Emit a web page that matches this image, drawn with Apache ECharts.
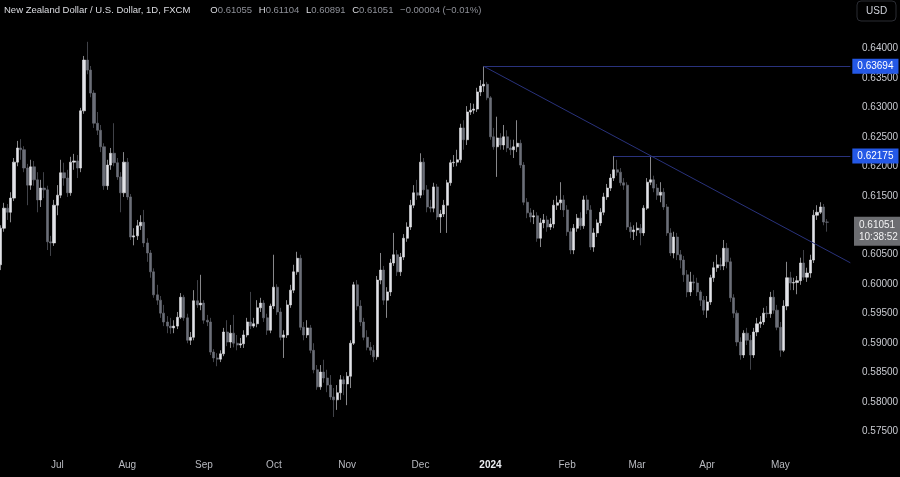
<!DOCTYPE html>
<html>
<head>
<meta charset="utf-8">
<title>NZDUSD 1D</title>
<script src="https://cdn.jsdelivr.net/npm/echarts/dist/echarts.min.js"></script>
<style>
  html, body { margin: 0; padding: 0; background: #000; }
  #chart { width: 900px; height: 477px; }
</style>
</head>
<body>
<div id="chart"></div>
<script>
// daily bars, FXCM, first bar on this weekday
var startDate = '2023-06-08';
// bar slots on the axis (the last ones stay empty, like the right margin in the original)
var slotCount = 256;

var opens = [
  0.6033, 0.6095, 0.6129, 0.6122, 0.6146, 0.6207, 0.6231, 0.6228, 0.6197, 0.6168,
  0.6199, 0.6177, 0.6143, 0.6163, 0.6160, 0.6072, 0.6070, 0.6134, 0.6151, 0.6189,
  0.6180, 0.6155, 0.6207, 0.6209, 0.6197, 0.6294, 0.6380, 0.6363, 0.6324, 0.6273,
  0.6261, 0.6233, 0.6167, 0.6202, 0.6222, 0.6206, 0.6182, 0.6155, 0.6207, 0.6148,
  0.6080, 0.6082, 0.6099, 0.6105, 0.6070, 0.6053, 0.6021, 0.5982, 0.5973, 0.5951,
  0.5936, 0.5929, 0.5926, 0.5929, 0.5944, 0.5978, 0.5943, 0.5905, 0.5910, 0.5972,
  0.5965, 0.5968, 0.5939, 0.5936, 0.5885, 0.5875, 0.5873, 0.5882, 0.5919, 0.5902,
  0.5917, 0.5900, 0.5897, 0.5899, 0.5914, 0.5936, 0.5929, 0.5933, 0.5960, 0.5968,
  0.5943, 0.5922, 0.5963, 0.5995, 0.5953, 0.5910, 0.5914, 0.5965, 0.5990, 0.6021,
  0.6044, 0.5927, 0.5914, 0.5926, 0.5888, 0.5855, 0.5826, 0.5851, 0.5841, 0.5829,
  0.5809, 0.5804, 0.5816, 0.5838, 0.5831, 0.5844, 0.5900, 0.5999, 0.5963, 0.5936,
  0.5910, 0.5893, 0.5888, 0.5877, 0.6007, 0.6024, 0.5973, 0.5987, 0.6036, 0.6050,
  0.6021, 0.6046, 0.6078, 0.6097, 0.6134, 0.6155, 0.6151, 0.6207, 0.6160, 0.6131,
  0.6129, 0.6165, 0.6114, 0.6119, 0.6134, 0.6172, 0.6206, 0.6207, 0.6211, 0.6265,
  0.6245, 0.6292, 0.6295, 0.6297, 0.6326, 0.6336, 0.6339, 0.6316, 0.6250, 0.6233,
  0.6248, 0.6236, 0.6250, 0.6231, 0.6228, 0.6233, 0.6239, 0.6202, 0.6139, 0.6121,
  0.6114, 0.6116, 0.6078, 0.6104, 0.6109, 0.6097, 0.6102, 0.6134, 0.6138, 0.6143,
  0.6126, 0.6089, 0.6058, 0.6095, 0.6112, 0.6099, 0.6143, 0.6126, 0.6063, 0.6087,
  0.6104, 0.6122, 0.6148, 0.6163, 0.6180, 0.6194, 0.6190, 0.6172, 0.6168, 0.6097,
  0.6089, 0.6092, 0.6095, 0.6087, 0.6129, 0.6173, 0.6177, 0.6163, 0.6151, 0.6156,
  0.6131, 0.6087, 0.6053, 0.6080, 0.6050, 0.6041, 0.6016, 0.5987, 0.6004, 0.6002,
  0.5987, 0.5973, 0.5956, 0.5970, 0.6011, 0.6028, 0.6033, 0.6031, 0.6061, 0.6038,
  0.5977, 0.5951, 0.5902, 0.5880, 0.5917, 0.5905, 0.5880, 0.5919, 0.5933, 0.5936,
  0.5951, 0.5950, 0.5978, 0.5956, 0.5927, 0.5888, 0.5963, 0.6011, 0.6002, 0.6003,
  0.6006, 0.6036, 0.6012, 0.6019, 0.6041, 0.6117, 0.6122, 0.6131, 0.61055
];

var closes = [
  0.6095, 0.6129, 0.6122, 0.6146, 0.6207, 0.6231, 0.6228, 0.6197, 0.6168, 0.6199,
  0.6177, 0.6143, 0.6163, 0.6160, 0.6072, 0.6070, 0.6134, 0.6151, 0.6189, 0.6180,
  0.6155, 0.6207, 0.6209, 0.6197, 0.6294, 0.6380, 0.6363, 0.6324, 0.6273, 0.6261,
  0.6233, 0.6167, 0.6202, 0.6222, 0.6206, 0.6182, 0.6155, 0.6207, 0.6148, 0.6080,
  0.6082, 0.6099, 0.6105, 0.6070, 0.6053, 0.6021, 0.5982, 0.5973, 0.5951, 0.5936,
  0.5929, 0.5926, 0.5929, 0.5944, 0.5978, 0.5943, 0.5905, 0.5910, 0.5972, 0.5965,
  0.5968, 0.5939, 0.5936, 0.5885, 0.5875, 0.5873, 0.5882, 0.5919, 0.5902, 0.5917,
  0.5900, 0.5897, 0.5899, 0.5914, 0.5936, 0.5929, 0.5933, 0.5960, 0.5968, 0.5943,
  0.5922, 0.5963, 0.5995, 0.5953, 0.5910, 0.5914, 0.5965, 0.5990, 0.6021, 0.6044,
  0.5927, 0.5914, 0.5926, 0.5888, 0.5855, 0.5826, 0.5851, 0.5841, 0.5829, 0.5809,
  0.5804, 0.5816, 0.5838, 0.5831, 0.5844, 0.5900, 0.5999, 0.5963, 0.5936, 0.5910,
  0.5893, 0.5888, 0.5877, 0.6007, 0.6024, 0.5973, 0.5987, 0.6036, 0.6050, 0.6021,
  0.6046, 0.6078, 0.6097, 0.6134, 0.6155, 0.6151, 0.6207, 0.6160, 0.6131, 0.6129,
  0.6165, 0.6114, 0.6119, 0.6134, 0.6172, 0.6206, 0.6207, 0.6211, 0.6265, 0.6245,
  0.6292, 0.6295, 0.6297, 0.6326, 0.6336, 0.6339, 0.6316, 0.6250, 0.6233, 0.6248,
  0.6236, 0.6250, 0.6231, 0.6228, 0.6233, 0.6239, 0.6202, 0.6139, 0.6121, 0.6114,
  0.6116, 0.6078, 0.6104, 0.6109, 0.6097, 0.6102, 0.6134, 0.6138, 0.6143, 0.6126,
  0.6089, 0.6058, 0.6095, 0.6112, 0.6099, 0.6143, 0.6126, 0.6063, 0.6087, 0.6104,
  0.6122, 0.6148, 0.6163, 0.6180, 0.6194, 0.6190, 0.6172, 0.6168, 0.6097, 0.6089,
  0.6092, 0.6095, 0.6087, 0.6129, 0.6173, 0.6177, 0.6163, 0.6151, 0.6156, 0.6131,
  0.6087, 0.6053, 0.6080, 0.6050, 0.6041, 0.6016, 0.5987, 0.6004, 0.6002, 0.5987,
  0.5973, 0.5956, 0.5970, 0.6011, 0.6028, 0.6033, 0.6031, 0.6061, 0.6038, 0.5977,
  0.5951, 0.5902, 0.5880, 0.5917, 0.5905, 0.5880, 0.5919, 0.5933, 0.5936, 0.5951,
  0.5950, 0.5978, 0.5956, 0.5927, 0.5888, 0.5963, 0.6011, 0.6002, 0.6003, 0.6006,
  0.6036, 0.6012, 0.6019, 0.6041, 0.6117, 0.6122, 0.6131, 0.61055, 0.61051
];

var highs = [
  0.6100, 0.6138, 0.6136, 0.6156, 0.6214, 0.6243, 0.6246, 0.6234, 0.6204, 0.6211,
  0.6209, 0.6190, 0.6177, 0.6190, 0.6167, 0.6082, 0.6143, 0.6168, 0.6211, 0.6206,
  0.6194, 0.6216, 0.6221, 0.6219, 0.6299, 0.6387, 0.6411, 0.6370, 0.6329, 0.6292,
  0.6270, 0.6239, 0.6211, 0.6231, 0.6273, 0.6214, 0.6190, 0.6224, 0.6214, 0.6153,
  0.6095, 0.6109, 0.6117, 0.6126, 0.6078, 0.6058, 0.6027, 0.5999, 0.5980, 0.5965,
  0.5946, 0.5943, 0.5939, 0.5953, 0.5985, 0.5982, 0.5950, 0.5919, 0.5990, 0.6007,
  0.6016, 0.5973, 0.5948, 0.5943, 0.5890, 0.5883, 0.5888, 0.5926, 0.5939, 0.5931,
  0.5948, 0.5914, 0.5909, 0.5922, 0.5943, 0.5987, 0.5943, 0.5973, 0.5977, 0.5973,
  0.5950, 0.5967, 0.6050, 0.6000, 0.5960, 0.5922, 0.5973, 0.5999, 0.6033, 0.6055,
  0.6050, 0.5936, 0.5939, 0.5931, 0.5900, 0.5863, 0.5863, 0.5872, 0.5855, 0.5846,
  0.5824, 0.5829, 0.5846, 0.5844, 0.5851, 0.5905, 0.6004, 0.6007, 0.5973, 0.5943,
  0.5922, 0.5902, 0.5897, 0.6014, 0.6053, 0.6031, 0.5995, 0.6043, 0.6087, 0.6058,
  0.6053, 0.6085, 0.6105, 0.6143, 0.6168, 0.6177, 0.6222, 0.6214, 0.6168, 0.6143,
  0.6172, 0.6170, 0.6126, 0.6143, 0.6177, 0.6211, 0.6219, 0.6228, 0.6272, 0.6278,
  0.6302, 0.6307, 0.6306, 0.6333, 0.6346, 0.63694, 0.6343, 0.6319, 0.6265, 0.6284,
  0.6256, 0.6270, 0.6261, 0.6245, 0.6245, 0.6278, 0.6245, 0.6207, 0.6146, 0.6129,
  0.6126, 0.6122, 0.6112, 0.6119, 0.6116, 0.6112, 0.6143, 0.6150, 0.6173, 0.6151,
  0.6134, 0.6095, 0.6102, 0.6119, 0.6122, 0.6150, 0.6151, 0.6134, 0.6095, 0.6110,
  0.6129, 0.6155, 0.6170, 0.6187, 0.62175, 0.6211, 0.6197, 0.6180, 0.6173, 0.6105,
  0.6100, 0.6105, 0.6102, 0.6134, 0.6180, 0.6218, 0.6184, 0.6170, 0.6173, 0.6163,
  0.6136, 0.6095, 0.6089, 0.6087, 0.6058, 0.6048, 0.6024, 0.6021, 0.6016, 0.6011,
  0.5990, 0.5980, 0.5980, 0.6016, 0.6038, 0.6050, 0.6045, 0.6075, 0.6070, 0.6045,
  0.5983, 0.5956, 0.5910, 0.5922, 0.5926, 0.5914, 0.5926, 0.5943, 0.5946, 0.5960,
  0.5963, 0.5987, 0.5990, 0.5965, 0.5936, 0.5973, 0.6038, 0.6021, 0.6011, 0.6014,
  0.6045, 0.6058, 0.6028, 0.6050, 0.6126, 0.6134, 0.6139, 0.6136, 0.61104
];

var lows = [
  0.6024, 0.6089, 0.6109, 0.6105, 0.6141, 0.6200, 0.6211, 0.6190, 0.6134, 0.6160,
  0.6167, 0.6122, 0.6131, 0.6146, 0.6058, 0.6048, 0.6065, 0.6117, 0.6146, 0.6167,
  0.6148, 0.6150, 0.6194, 0.6180, 0.6190, 0.6289, 0.6356, 0.6317, 0.6265, 0.6253,
  0.6224, 0.6160, 0.6160, 0.6194, 0.6200, 0.6177, 0.6122, 0.6148, 0.6143, 0.6075,
  0.6066, 0.6075, 0.6092, 0.6063, 0.6038, 0.6011, 0.5977, 0.5965, 0.5943, 0.5929,
  0.5917, 0.5916, 0.5917, 0.5924, 0.5941, 0.5938, 0.5900, 0.5897, 0.5905, 0.5960,
  0.5956, 0.5933, 0.5929, 0.5880, 0.5868, 0.5861, 0.5868, 0.5878, 0.5895, 0.5892,
  0.5893, 0.5888, 0.5892, 0.5892, 0.5910, 0.5924, 0.5926, 0.5927, 0.5953, 0.5936,
  0.5914, 0.5917, 0.5958, 0.5948, 0.5905, 0.5875, 0.5909, 0.5960, 0.5985, 0.6016,
  0.5922, 0.5905, 0.5909, 0.5883, 0.5849, 0.5821, 0.5821, 0.5833, 0.5817, 0.5804,
  0.5775, 0.5787, 0.5804, 0.5812, 0.5795, 0.5824, 0.5897, 0.5956, 0.5929, 0.5905,
  0.5888, 0.5880, 0.5868, 0.5872, 0.6000, 0.5965, 0.5943, 0.5980, 0.6031, 0.6014,
  0.6014, 0.6041, 0.6072, 0.6092, 0.6129, 0.6143, 0.6146, 0.6151, 0.6122, 0.6122,
  0.6122, 0.6109, 0.6087, 0.6114, 0.6087, 0.6167, 0.6199, 0.6200, 0.6206, 0.6228,
  0.6236, 0.6287, 0.6289, 0.6292, 0.6319, 0.6326, 0.6312, 0.6245, 0.6228, 0.6182,
  0.6228, 0.6228, 0.6224, 0.6219, 0.6214, 0.6224, 0.6197, 0.6134, 0.6112, 0.6105,
  0.6102, 0.6072, 0.6063, 0.6095, 0.6089, 0.6092, 0.6095, 0.6126, 0.6126, 0.6114,
  0.6082, 0.6051, 0.6051, 0.6089, 0.6092, 0.6094, 0.6119, 0.6058, 0.6055, 0.6080,
  0.6099, 0.6117, 0.6143, 0.6158, 0.6175, 0.6184, 0.6167, 0.6160, 0.6092, 0.6078,
  0.6075, 0.6082, 0.6066, 0.6082, 0.6126, 0.6168, 0.6156, 0.6143, 0.6139, 0.6126,
  0.6082, 0.6048, 0.6044, 0.6041, 0.6027, 0.6004, 0.5978, 0.5980, 0.5990, 0.5980,
  0.5963, 0.5948, 0.5943, 0.5965, 0.6004, 0.6021, 0.6024, 0.6024, 0.6027, 0.5970,
  0.5943, 0.5895, 0.5872, 0.5875, 0.5897, 0.5855, 0.5875, 0.5912, 0.5926, 0.5931,
  0.5943, 0.5943, 0.5950, 0.5922, 0.5877, 0.5885, 0.5956, 0.5990, 0.5990, 0.5983,
  0.5999, 0.6007, 0.6004, 0.6011, 0.6036, 0.6109, 0.6119, 0.6100, 0.60891
];

// bottom axis: one label on the first bar of each month
var tickLabels = ['Jul', 'Aug', 'Sep', 'Oct', 'Nov', 'Dec', '2024', 'Feb', 'Mar', 'Apr', 'May'];

// drawn lines: top of Dec 28, shelf from Feb 22, trend line touching Mar 8
var peakIdx = 145;
var shelfIdx = 184;
var touchIdx = 195;

var font = '"Liberation Sans", Arial, sans-serif';
var fs = 10;

// weekday calendar for the category axis
var dates = [];
var d = new Date(startDate + 'T00:00:00Z');
while (dates.length < slotCount) {
  var wd = d.getUTCDay();
  if (wd !== 0 && wd !== 6) dates.push(d.toISOString().slice(0, 10));
  d.setUTCDate(d.getUTCDate() + 1);
}

var labelAt = {};
var k = 0;
for (var i = 1; i < dates.length; i++) {
  if (dates[i].slice(5, 7) !== dates[i - 1].slice(5, 7) && k < tickLabels.length) {
    labelAt[dates[i]] = tickLabels[k++];
  }
}

var candles = opens.map(function (o, i) {
  return [o, closes[i], lows[i], highs[i]];
});

var lastSlot = slotCount - 1;
var slope = (highs[touchIdx] - highs[peakIdx]) / (touchIdx - peakIdx);
var trendEnd = highs[peakIdx] + slope * (lastSlot - peakIdx);

var last = closes.length - 1;
var chg = closes[last] - closes[last - 1];
var pct = chg / closes[last - 1] * 100;
function signed(v, n) {
  return (v < 0 ? '\u2212' : '+') + Math.abs(v).toFixed(n);
}

var blueLabel = function (val) {
  return {
    show: true,
    position: 'end',
    distance: 2,
    formatter: val.toFixed(5),
    color: '#ffffff',
    backgroundColor: '#2458e6',
    padding: [3, 5, 2, 5],
    fontSize: fs,
    fontFamily: font
  };
};

var myChart = echarts.init(document.getElementById('chart'));
myChart.setOption({
  backgroundColor: '#000000',
  animation: false,
  grid: { left: -1, right: 48, top: 18.8, bottom: 45.3, outerBoundsMode: 'none' },
  xAxis: {
    type: 'category',
    data: dates,
    boundaryGap: true,
    axisLine: { show: false },
    axisTick: { show: false },
    splitLine: { show: false },
    axisLabel: {
      interval: function (idx, val) { return labelAt[val] !== undefined; },
      formatter: function (val) {
        var t = labelAt[val];
        return /^\d{4}$/.test(t) ? '{y|' + t + '}' : t;
      },
      color: '#b8bac0',
      fontSize: fs,
      margin: 29,
      fontFamily: font,
      rich: {
        y: { fontWeight: 'bold', color: '#eceef2', fontSize: fs, fontFamily: font }
      }
    }
  },
  yAxis: {
    type: 'value',
    position: 'right',
    min: 0.575,
    max: 0.645,
    interval: 0.005,
    axisLine: { show: false },
    axisTick: { show: false },
    splitLine: { show: false },
    axisLabel: {
      formatter: function (v) { return v > 0.6401 ? '' : v.toFixed(5); },
      color: '#c9cbd1',
      fontSize: fs,
      margin: 10,
      fontFamily: font
    }
  },
  series: [{
    type: 'candlestick',
    data: candles,
    barWidth: 2.6,
    itemStyle: {
      color: '#e2e3e8',
      color0: '#6c6f78',
      borderColor: '#e2e3e8',
      borderColor0: '#6c6f78',
      borderWidth: 0.6
    },
    markLine: {
      silent: true,
      symbol: 'none',
      animation: false,
      label: { show: false },
      lineStyle: { color: '#29327c', width: 1, type: 'solid' },
      data: [
        [
          { coord: [dates[peakIdx], highs[peakIdx]], label: blueLabel(highs[peakIdx]) },
          { coord: [dates[lastSlot], highs[peakIdx]], label: blueLabel(highs[peakIdx]) }
        ],
        [
          { coord: [dates[shelfIdx], highs[shelfIdx]], label: blueLabel(highs[shelfIdx]) },
          { coord: [dates[lastSlot], highs[shelfIdx]], label: blueLabel(highs[shelfIdx]) }
        ],
        [
          { coord: [dates[peakIdx], highs[peakIdx]] },
          { coord: [dates[lastSlot], trendEnd] }
        ],
        {
          yAxis: closes[last],
          lineStyle: { color: 'rgba(0,0,0,0)' },
          label: {
            show: true,
            position: 'end',
            distance: 2,
            offset: [0, 6],
            formatter: closes[last].toFixed(5) + '\n10:38:52',
            color: '#f2f2f2',
            backgroundColor: '#6c6d71',
            padding: [3, 5, 2, 5],
            lineHeight: 12,
            fontSize: fs,
            fontFamily: font
          }
        }
      ]
    }
  }],
  graphic: [
    {
      type: 'text',
      left: 4,
      top: 4,
      style: {
        text: '{t|New Zealand Dollar / U.S. Dollar, 1D, FXCM}      ' +
          '{k|O}{v|' + opens[last].toFixed(5) + '}  ' +
          '{k|H}{v|' + highs[last].toFixed(5) + '}  ' +
          '{k|L}{v|' + lows[last].toFixed(5) + '}  ' +
          '{k|C}{v|' + closes[last].toFixed(5) + '}  ' +
          '{v|' + signed(chg, 5) + ' (' + signed(pct, 2) + '%)}',
        rich: {
          t: { fill: '#dcdde2', fontSize: 9.5, fontFamily: font },
          k: { fill: '#dcdde2', fontSize: 9.5, fontFamily: font },
          v: { fill: '#8e9098', fontSize: 9.5, fontFamily: font }
        }
      }
    },
    {
      type: 'rect',
      shape: { x: 857, y: 1, width: 39, height: 20, r: 4 },
      style: { fill: 'none', stroke: '#2a2c33', lineWidth: 1 }
    },
    {
      type: 'text',
      left: 866,
      top: 6,
      style: { text: 'USD', fill: '#d1d4dc', fontSize: fs, fontFamily: font }
    }
  ]
});
</script>
</body>
</html>
